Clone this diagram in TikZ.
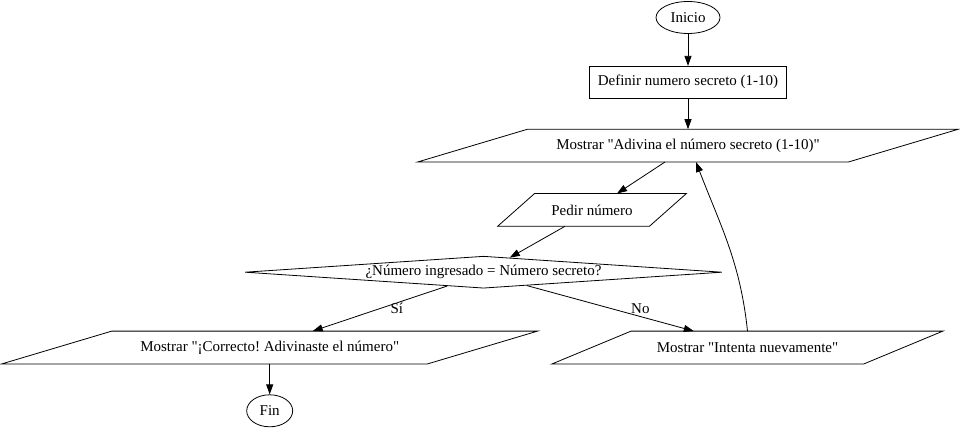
\documentclass[tikz,border=0pt]{standalone}
\usepackage{fontspec}
\newfontfamily\gvserif{Liberation Serif}
\usetikzlibrary{shapes.geometric,arrows.meta,positioning,calc}

\begin{document}
\begin{tikzpicture}[->,
>={Triangle[length=10pt,width=7pt]},
thick,
x=1pt, y=1pt,
font=\gvserif\fontsize{15pt}{18pt}\selectfont\frenchspacing,
terminall/.style={ellipse, minimum width=64pt, minimum height=32pt, inner sep=0pt, draw=black},
procesoo/.style={rectangle, minimum width=197pt, minimum height=32pt, inner sep=0pt, text centered, draw=black},
entradaa/.style={rectangle, minimum height=32pt, inner sep=0pt, text centered,
  append after command={\pgfextra{\draw[-] ([xshift=-#1*0.5pt]\tikzlastnode.south west) -- ([xshift=-#1*0.5pt]\tikzlastnode.south east) -- ([xshift=#1*0.5pt]\tikzlastnode.north east) -- ([xshift=#1*0.5pt]\tikzlastnode.north west) -- cycle;}}},
decisionn/.style={diamond, aspect=15, minimum width=477pt, minimum height=32pt, inner sep=-1.5pt, draw=black},
]
  \useasboundingbox (0,0) rectangle (960,429);

  \node (inicio) [terminall] at (688,411.5) {Inicio};
  \node (definir) [procesoo, below=32pt of inicio] {Definir numero secreto (1-10)};
  \node (adivina) [entradaa=110, minimum width=430pt, below=30.5pt of definir] {Mostrar "Adivina el número secreto (1-10)"};
  \node (pedir) [entradaa=37, minimum width=151pt, below=31.5pt of adivina, xshift=-96pt] {Pedir número};
  \node (comparar) [decisionn, below=29.5pt of pedir, xshift=-108.5pt] {¿Número ingresado = Número secreto?};
  \node (correcto) [entradaa=110, minimum width=425pt, below=42.5pt of comparar, xshift=-213.8pt] {Mostrar "¡Correcto! Adivinaste el número"};
  \node (intenta) [entradaa=79, minimum width=311pt, right=109pt of correcto] {Mostrar "Intenta nuevamente"};
  \node (fin) [terminall, minimum width=46pt, below=30.5pt of correcto] {Fin};

  \path
    (inicio)
        edge (definir)
    (definir)
        edge (adivina)
    ([xshift=-23pt]adivina.south)
        edge ([xshift=25pt]pedir.north)
    ([xshift=-27pt]pedir.south)
        edge ($(comparar.north)!0.11!(comparar.east)$)
    ($(comparar.south)!0.153!(comparar.west)$)
        edge node[midway, xshift=17pt] {Sí} ([xshift=43pt]correcto.north)
    ($(comparar.south)!0.182!(comparar.east)$)
        edge node[midway, xshift=30pt] {No} ([xshift=-53.7pt]intenta.north)
    (intenta.north)
        edge[out=96, in=-69] ([xshift=8pt]adivina.south)
    (correcto)
        edge (fin)
    ;
\end{tikzpicture}
\end{document}
